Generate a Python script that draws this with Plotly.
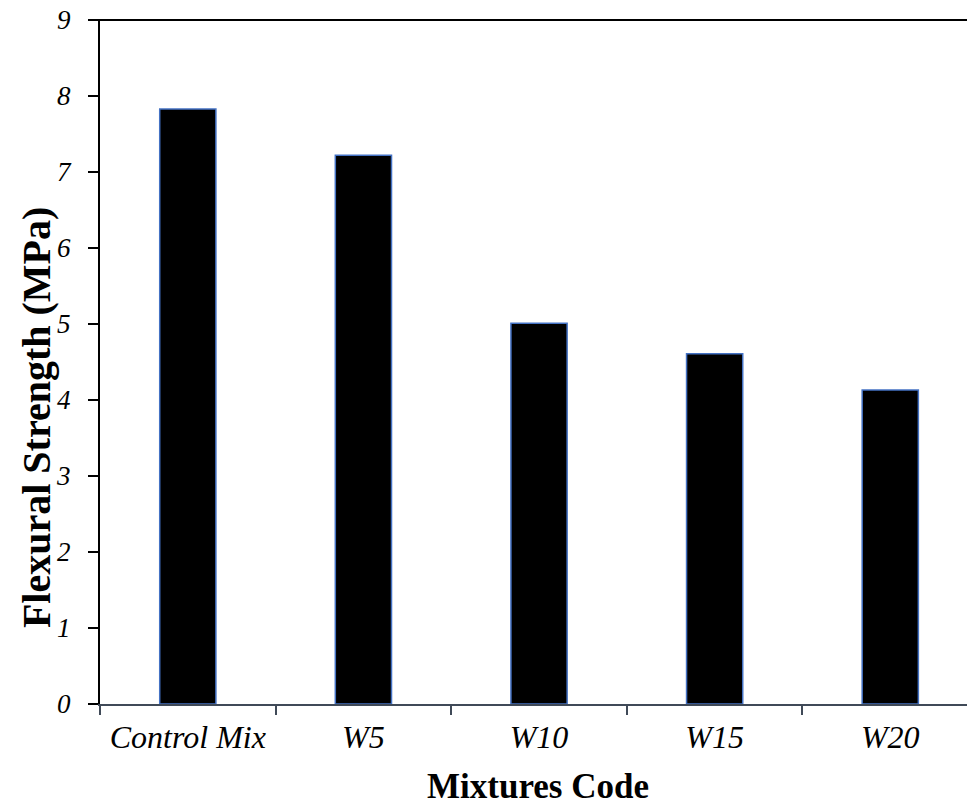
import plotly.graph_objects as go

categories = ["Control Mix", "W5", "W10", "W15", "W20"]
flexural_strength = [7.83, 7.22, 5.01, 4.61, 4.13]
y_ticks = [0, 1, 2, 3, 4, 5, 6, 7, 8, 9]
x_title = "Mixtures Code"
y_title = "Flexural Strength (MPa)"

serif = "Liberation Serif, Times New Roman, serif"

fig = go.Figure()
fig.add_trace(go.Bar(
    x=categories,
    y=flexural_strength,
    marker=dict(color="#000000", line=dict(color="#4472C4", width=1.5)),
    width=0.32,
))

fig.update_layout(
    width=967, height=806,
    margin=dict(l=100, r=0, t=20, b=102),
    paper_bgcolor="white", plot_bgcolor="white",
    showlegend=False,
    font=dict(family=serif, color="black"),
    xaxis=dict(
        type="category",
        range=[-0.5, 4.437],
        automargin=False,
        showline=True, linecolor="#404a58", linewidth=2,
        ticks="outside", tickson="boundaries", ticklen=9, tickcolor="#404a58", tickwidth=1.5,
        tickfont=dict(family=serif, size=32, style="italic", color="black"),
        ticklabelstandoff=4,
        showgrid=False, zeroline=False,
    ),
    yaxis=dict(
        range=[0, 9],
        tickvals=y_ticks,
        automargin=False,
        showline=True, linecolor="black", linewidth=2,
        ticks="outside", ticklen=10, tickcolor="black", tickwidth=1.5,
        tickfont=dict(family=serif, size=27, style="italic", color="black"),
        ticklabelstandoff=12,
        ticklabeloverflow="allow",
        showgrid=False, zeroline=False,
    ),
)
fig.add_shape(type="line", xref="paper", yref="paper", x0=-0.012, x1=1, y0=1, y1=1,
              line=dict(color="black", width=2))
fig.add_annotation(text="<b>" + y_title + "</b>", xref="paper", yref="paper",
                   x=-0.0738, y=0.418, xanchor="center", yanchor="middle",
                   textangle=-90, showarrow=False,
                   font=dict(family=serif, size=40, color="black"))
fig.add_annotation(text="<b>" + x_title + "</b>", xref="paper", yref="paper",
                   x=0.505, y=-0.121, xanchor="center", yanchor="middle",
                   showarrow=False,
                   font=dict(family=serif, size=35, color="black"))

fig.write_html("out.html", config={"displayModeBar": False},
               post_script="document.body.style.margin='0px';")
